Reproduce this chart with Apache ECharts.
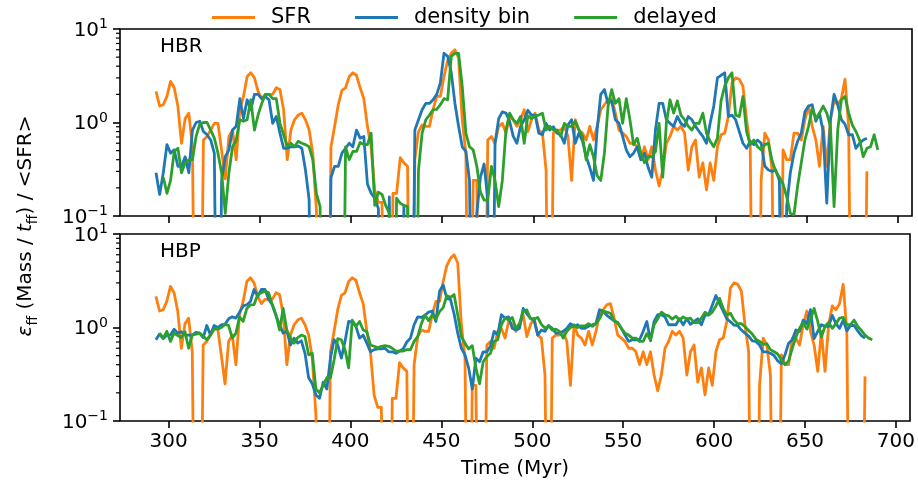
<!DOCTYPE html>
<html>
<head>
<meta charset="utf-8">
<script src="https://cdn.jsdelivr.net/npm/echarts@6/dist/echarts.min.js"></script>
<style>html,body{margin:0;padding:0;background:#fff}#c{width:918px;height:482px}</style>
</head>
<body>
<div id="c"></div>
<script>
// time grid: first sample (Myr) and spacing
const T0 = 293, DT = 2;

// SFR normalised (same curve in both panels); 0 = below plotted range
const sfr = [
 2.15,1.5,1.55,1.9,2.75,2.35,1.5,0.6,1.1,1.26,
 0.55,0,0,0.65,0.71,0.83,0.98,0.98,0.5,0.25,
 0.71,0.83,0.4,1.37,1.9,3.1,3.4,3.0,2.15,1.8,
 2.0,2.0,2.0,2.35,2.25,1.37,0.40,0.83,1.07,1.2,
 1.26,1.07,0.83,0.47,0.116,0,0,0,0.55,0.91,
 1.55,2.2,2.35,3.1,3.4,3.2,2.35,1.8,0.91,0.55,
 0.19,0.14,0.14,0,0,0.175,0.175,0.42,0.37,0.34,
 0,0.40,0.8,0.94,0.91,0.91,1.37,1.9,1.9,3.1,
 4.6,5.5,6.0,4.9,1.07,0.47,0,0.24,0.24,0,
 0,0.65,0.71,0.6,0.91,0.98,0.77,1.16,1.07,0.91,
 1.07,1.37,0.8,1.07,1.26,0.83,0.77,0.31,0,0.77,
 0.83,0.83,0.91,0.71,0.24,1.07,0.83,0.77,0.65,0.91,
 0.65,0.91,1.37,1.55,1.75,1.8,1.26,0.83,0.77,0.71,
 0.6,0.6,0.55,0.4,0.55,0.4,0.55,0.31,0.21,0.31,
 0.6,0.71,0.91,0.83,0.91,0.77,0.31,0.55,0.65,0.26,
 0.37,0.19,0.37,0.24,0.55,0.74,0.77,1.16,2.65,3.0,
 2.9,2.45,1.07,0.55,0,0,0.24,0.77,0.65,0.31,
 0,0,0.51,0.4,0.4,0.77,0.77,0.65,1.07,1.5,
 0.91,0.65,0.34,0.91,0.34,1.07,1.7,1.55,1.8,2.9,
 0.91,0,0,0,0,0.3,null,null,null
];

// HBR panel
const hbrDensity = [
 0.29,0.17,0.29,0.58,0.47,0.51,0.34,0.34,0.43,0.29,
 0.83,1.0,1.03,0.8,0.74,0.65,0.47,0,0.24,0.43,
 0.51,0.83,0.91,1.8,1.1,1.75,1.37,2.0,2.0,1.8,
 1.9,1.75,0.98,1.16,0.77,0.53,0.53,0.55,0.55,0.56,
 0.53,0.31,0.15,0,0,0,0,0,0.26,0.34,
 0.34,0.47,0.53,0.6,0.55,0.83,0.68,0.71,0.22,0.175,
 0.155,0.12,0,0,0.16,0,0,0,0.126,0,
 0,0.83,1.07,1.37,1.6,1.6,1.75,2.0,2.65,5.5,
 5.1,3.4,1.6,0.91,0.55,0.49,0.24,0,0.107,0.26,
 0.36,0.15,0,0.6,1.1,1.3,1.26,1.03,0.71,0.6,
 0.91,1.07,1.35,1.2,1.2,0.77,0.74,0.98,0.83,0.9,
 0.77,0.74,0.6,0.94,1.07,0.6,0.77,0.63,0.43,0.33,
 0.24,0.83,2.0,2.25,1.6,1.7,1.07,0.98,0.71,0.51,
 0.43,0.47,0.55,0.4,0.47,0.33,0.26,0.83,1.6,1.6,
 1.07,0.98,0.91,1.16,0.98,0.91,1.16,1.07,0.91,0.8,
 0.71,0.6,0.98,1.5,3.0,3.2,3.4,1.16,1.2,1.07,
 0.8,0.6,0.53,0.63,0.58,0.65,0.6,0.34,0.31,0.3,
 0.31,0.24,0,0.126,0.29,0.47,0.63,0.77,1.3,1.5,
 1.55,1.03,1.26,0.8,0.137,1.07,2.0,1.55,1.07,0.96,
 0.74,0.74,0.53,0.6,0.65,0.68,null,null,null
];
const hbrDelayed = [
 null,null,0.26,0.175,0.24,0.49,0.53,0.29,0.37,0.40,
 0.40,0.71,0.96,1.0,1.0,0.83,0.68,0.47,0.29,0.107,
 0.29,0.55,0.65,1.07,1.03,1.07,1.75,0.83,1.2,1.6,
 2.0,2.0,1.8,1.8,0.98,0.74,0.56,0.6,0.55,0.63,
 0.6,0.58,0.55,0.40,0.175,0.126,0,0,0,0,
 0,0,0.55,0.4,0.49,0.49,0.61,0.58,0.58,0.77,
 0.13,0.18,0.17,0.13,0.107,0,0.155,0.137,0.13,0.126,
 0,0,0.31,0.77,1.07,1.2,1.37,1.38,1.55,1.8,
 1.75,5.1,5.5,5.5,2.45,0.77,0.55,0.51,0.34,0.18,
 0.148,0.148,0.34,0.24,0.126,0.24,0.83,1.26,1.07,0.98,
 1.16,0.6,1.18,1.1,1.18,1.2,1.26,0.83,0.91,0.83,
 0.83,0.71,0.98,0.91,0.91,1.03,0.83,0.71,0.40,0.58,
 0.43,0.27,0.24,0.47,1.48,2.25,1.6,1.8,0.98,1.8,
 1.07,0.58,0.68,0.47,0.37,0.43,0.43,0.49,0.98,0.26,
 0.98,1.75,1.26,1.7,1.2,1.07,0.91,0.83,0.98,0.98,
 1.26,0.77,0.63,0.55,0.68,1.7,2.45,3.0,3.4,1.2,
 1.16,1.9,0.8,0.58,0.65,0.55,0.51,0.58,0.6,0.39,
 0.3,0.26,0.22,0.16,0.107,0.103,0.21,0.37,0.65,0.91,
 1.4,1.1,1.26,1.5,1.26,0.91,0.126,0.83,1.75,1.9,
 1.26,0.94,0.8,0.65,0.43,0.53,0.55,0.74,0.51
];

// HBP panel
const hbpDensity = [
 0.74,0.85,0.76,0.83,0.83,0.96,0.87,0.9,0.83,0.83,
 0.83,0.89,0.87,0.78,1.05,0.83,1.05,1.0,1.07,1.08,
 1.24,1.3,1.26,1.46,1.7,1.75,1.9,2.55,2.15,2.55,
 2.55,2.0,1.75,1.35,1.07,0.87,0.92,0.65,0.77,0.68,
 0.72,0.53,0.29,0.25,0.19,0.175,0.26,0.22,0.47,0.74,
 0.65,0.47,0.71,1.16,1.14,1.03,0.77,0.83,0.68,0.55,
 0.58,0.59,0.59,0.6,0.55,0.55,0.53,0.56,0.59,0.7,
 0.77,1.07,1.3,1.28,1.35,1.46,1.5,1.16,2.45,2.85,
 2.05,2.0,1.4,0.87,0.6,0.51,0.37,0.22,0.47,0.43,
 0.55,0.55,0.63,0.91,0.83,1.37,1.26,1.3,0.98,0.94,
 0.98,1.6,1.4,1.26,1.2,0.83,0.94,0.91,1.05,0.98,
 0.87,0.87,0.91,0.98,1.1,1.03,1.07,0.98,0.98,1.03,
 1.07,1.1,1.55,1.5,1.35,1.26,1.18,1.12,0.98,0.83,
 0.71,0.74,0.74,0.74,0.91,1.16,0.72,1.16,1.37,1.37,
 1.3,1.07,1.07,1.07,1.24,1.07,1.24,1.08,1.16,1.24,
 1.07,1.35,1.37,1.73,2.2,1.8,1.5,1.24,1.15,1.06,
 1.05,0.94,0.87,0.81,0.72,0.71,0.65,0.55,0.55,0.53,
 0.5,0.44,0.41,0.51,0.68,0.74,0.94,0.91,1.2,1.1,
 1.55,0.76,0.91,1.07,1.03,1.03,1.35,1.1,0.98,1.2,
 0.92,1.05,1.05,0.92,0.82,0.77,null,null,null
];
const hbpDelayed = [
 null,0.87,0.77,0.91,0.71,0.87,0.82,0.78,0.9,0.6,
 0.83,0.85,0.87,0.81,0.74,0.83,0.96,0.96,1.0,1.08,
 1.05,0.77,0.87,1.3,1.16,1.6,1.75,1.76,2.25,2.35,
 2.45,2.35,1.76,1.37,0.94,1.6,0.94,0.77,0.68,0.78,
 0.83,0.8,0.51,0.53,0.22,0.2,0.24,0.29,0.29,0.45,
 0.76,0.74,0.58,0.37,1.2,1.03,1.16,0.94,0.9,0.65,
 0.63,0.61,0.63,0.64,0.63,0.6,0.56,0.56,0.56,0.58,
 0.58,0.71,0.8,1.1,1.36,1.18,1.37,1.24,1.48,1.63,
 2.2,2.1,2.25,1.37,0.8,0.68,0.59,0.64,0.37,0.25,
 0.43,0.49,0.53,0.71,0.74,1.07,1.26,1.2,1.28,0.98,
 1.1,1.5,1.54,1.24,1.23,1.28,1.08,0.98,1.04,0.94,
 0.96,0.91,0.77,0.91,1.0,1.05,1.0,1.04,1.04,1.1,
 1.03,1.1,1.24,1.5,1.46,1.42,1.18,1.13,0.98,0.87,
 0.83,0.77,0.77,0.71,0.71,0.86,0.74,1.07,1.24,1.46,
 1.37,1.33,1.23,1.32,1.2,1.3,1.23,1.26,1.13,1.13,
 1.26,1.46,1.35,1.46,1.7,2.05,1.6,1.35,1.42,1.2,
 1.1,1.1,1.02,0.93,0.85,0.75,0.71,0.66,0.67,0.58,
 0.55,0.52,0.45,0.40,0.44,0.6,0.79,0.98,1.13,0.96,
 1.2,1.6,1.16,0.79,1.03,1.13,0.98,1.1,1.26,1.28,
 1.07,1.07,1.2,1.03,0.93,0.83,0.77,0.74,null
];

const xTicks = [300, 350, 400, 450, 500, 550, 600, 650, 700];
const yMinorTicks = [0.2,0.3,0.4,0.5,0.6,0.7,0.8,0.9,2,3,4,5,6,7,8,9];
const panelNames = ['HBR', 'HBP'];
const seriesNames = ['SFR', 'density bin', 'delayed'];
const xTitle = 'Time (Myr)';

const F = 'DejaVu Sans';
const colors = ['#ff7f0e', '#1f77b4', '#2ca02c'];
const time = sfr.map((_, i) => T0 + DT * i);
const FLOOR = 1e-4; // stands in for zero on the log axis (drawn off the bottom)
function toPairs(vals) {
  const out = [];
  vals.forEach((v, i) => { if (v === null) return; out.push([time[i], v === 0 ? FLOOR : v]); });
  return out;
}

const GL = 120, GW = 792, GH = 187, GT = [29, 234];
const panels = [[sfr, hbrDensity, hbrDelayed], [sfr, hbpDensity, hbpDelayed]];

const grids = GT.map(t => ({left: GL, top: t, width: GW, height: GH, show: true, borderColor: '#000', borderWidth: 1.6, backgroundColor: 'transparent', containLabel: false}));

const xAxes = [0, 1].map(g => ({
  type: 'value', gridIndex: g, min: 273.25, max: 707.75,
  axisLine: {show: false},
  splitLine: {show: false},
  axisTick: {show: true, customValues: xTicks, length: 7, lineStyle: {color: '#000', width: 1.6}},
  axisLabel: {show: g === 1, customValues: xTicks, fontSize: 20, fontFamily: F, color: '#000', margin: 11},
  name: g === 1 ? xTitle : '', nameLocation: 'middle', nameGap: 38,
  nameTextStyle: {fontSize: 20, fontFamily: F, color: '#000'}
}));

const supRich = {
  b: {fontSize: 20, fontFamily: F, color: '#000', verticalAlign: 'bottom'},
  s: {fontSize: 14, fontFamily: F, color: '#000', verticalAlign: 'bottom', padding: [0, 0, 9, 0]}
};
const yAxes = [0, 1].map(g => ({
  type: 'log', logBase: 10, gridIndex: g, min: 0.1, max: 10, position: 'left',
  axisLine: {show: false}, splitLine: {show: false}, minorTick: {show: false},
  axisTick: {show: true, length: 7, lineStyle: {color: '#000', width: 1.6}},
  axisLabel: {
    showMinLabel: true, showMaxLabel: true, margin: 12, rich: supRich,
    formatter: v => { const e = Math.round(Math.log10(v)); return '{b|10}{s|' + (e < 0 ? '\u2212' + (-e) : e) + '}'; }
  }
}));

const series = [];
panels.forEach((arrs, g) => {
  arrs.forEach((arr, k) => {
    series.push({
      type: 'line', name: seriesNames[k], xAxisIndex: g, yAxisIndex: g,
      data: toPairs(arr), showSymbol: false, symbol: 'none', clip: true,
      lineStyle: {color: colors[k], width: 2.8, join: 'round'},
      itemStyle: {color: colors[k]}, z: 2 + k, animation: false
    });
  });
});

const baseGraphic = [
  {type: 'text', x: 160, y: 47, style: {text: panelNames[0], fontSize: 20, fontFamily: F, fill: '#000', verticalAlign: 'middle', textVerticalAlign: 'middle'}},
  {type: 'text', x: 160, y: 252, style: {text: panelNames[1], fontSize: 20, fontFamily: F, fill: '#000', verticalAlign: 'middle', textVerticalAlign: 'middle'}},
  {type: 'text', x: 28, y: 226, rotation: Math.PI / 2,
   style: {
     text: '{i|\u03b5}{sub|ff}{n| (Mass / }{i|t}{sub|ff}{n|) / <SFR>}',
     fontSize: 20, fontFamily: F, fill: '#000',
     align: 'center', verticalAlign: 'middle', textAlign: 'center', textVerticalAlign: 'middle',
     rich: {
       i: {fontSize: 20, fontFamily: F, fontStyle: 'italic', verticalAlign: 'bottom', padding: [0, 0, 5, 0]},
       n: {fontSize: 20, fontFamily: F, verticalAlign: 'bottom', padding: [0, 0, 5, 0]},
       sub: {fontSize: 14, fontFamily: F, verticalAlign: 'bottom'}
     }
   }}
];

const chart = echarts.init(document.getElementById('c'), null, {renderer: 'canvas'});
chart.setOption({
  animation: false,
  backgroundColor: '#fff',
  textStyle: {fontFamily: F},
  grid: grids,
  xAxis: xAxes,
  yAxis: yAxes,
  legend: {
    data: seriesNames, top: 2, left: 207, icon: 'rect', itemWidth: 43, itemHeight: 3, itemGap: 44,
    textStyle: {fontSize: 21, fontFamily: F, color: '#000', padding: [0, 0, 0, 11]}
  },
  graphic: baseGraphic,
  series: series
});

// minor log ticks (2..9 x 10^k), positioned through each panel's own y scale
const minorTicks = [];
[0, 1].forEach(g => {
  yMinorTicks.forEach(v => {
    const py = chart.convertToPixel({yAxisIndex: g}, v);
    minorTicks.push({type: 'line', silent: true, z: 10,
      shape: {x1: GL - 4, y1: py, x2: GL, y2: py},
      style: {stroke: '#000', lineWidth: 1.2}});
  });
});
chart.setOption({graphic: baseGraphic.concat(minorTicks)});
</script>
</body>
</html>
